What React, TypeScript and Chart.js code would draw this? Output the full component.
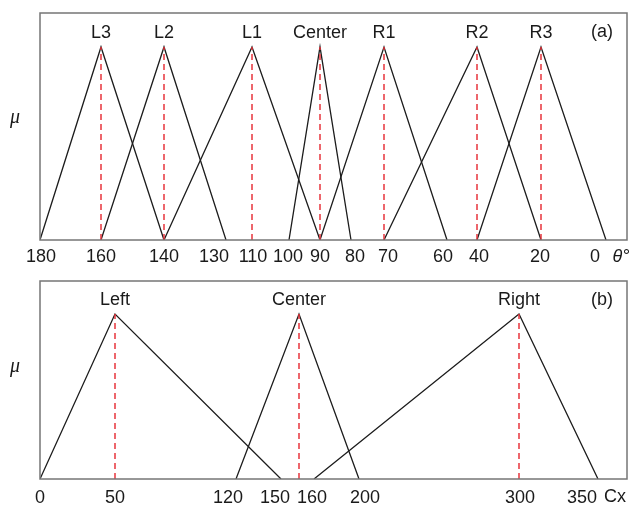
import React, { useEffect, useRef } from "react";
import { Chart, LinearScale, registerables } from "chart.js";

Chart.register(...registerables);

// ---------- Data: panel (a), steering angle θ ----------
const THETA_TICKS = [180, 160, 140, 130, 110, 100, 90, 80, 70, 60, 40, 20, 0];
const THETA_NAMES = ["L3", "L2", "L1", "Center", "R1", "R2", "R3"];
const THETA_LEFT = [180, 160, 140, 100, 90, 70, 40];
const THETA_PEAK = [160, 140, 110, 90, 70, 40, 20];
const THETA_RIGHT = [140, 130, 90, 80, 60, 20, 0];

// ---------- Data: panel (b), centroid Cx ----------
const CX_TICKS = [0, 50, 120, 150, 160, 200, 300, 350];
const CX_NAMES = ["Left", "Center", "Right"];
const CX_LEFT = [0, 120, 170];
const CX_PEAK = [50, 160, 300];
const CX_RIGHT = [150, 200, 350];

// ---------- Axis layout (non-uniform axis breakpoints in px from plot left; plot width 587) ----------
const PLOT_W = 587;
const THETA_AXIS_VALUES = [180, 160, 140, 130, 110, 100, 90, 80, 70, 60, 40, 20, 0, -6.5];
const THETA_AXIS_OFFSETS = [0, 61, 124, 186, 212, 249, 280, 311, 344, 407, 437, 501, 566, 587];
const THETA_LABEL_NUDGE = [1, 0, 0, -12, 1, -1, 0, 4, 4, -4, 2, -1, -11];
const CX_AXIS_VALUES = [0, 50, 120, 150, 160, 200, 300, 350, 368];
const CX_AXIS_OFFSETS = [0, 75, 196, 241, 259, 319, 479, 558, 587];
const CX_LABEL_NUDGE = [0, 0, -8, -6, 13, 6, 1, -16];

function interp(xs: number[], ys: number[], v: number): number {
  const n = xs.length;
  const inc = xs[n - 1] > xs[0];
  for (let i = 0; i < n - 1; i++) {
    const a = xs[i], b = xs[i + 1];
    const inside = inc ? v >= a && v <= b : v <= a && v >= b;
    if (inside) return ys[i] + ((v - a) / (b - a)) * (ys[i + 1] - ys[i]);
  }
  const i = (inc ? v < xs[0] : v > xs[0]) ? 0 : n - 2;
  const a = xs[i], b = xs[i + 1];
  return ys[i] + ((v - a) / (b - a)) * (ys[i + 1] - ys[i]);
}

function makeScale(id: string, values: number[], offsets: number[], tickVals: number[], nudges: number[]) {
  const fracs = offsets.map((o) => o / PLOT_W);
  class PiecewiseScale extends (LinearScale as any) {
    static id = id;
    static defaults = (LinearScale as any).defaults;
    getPixelForValue(value: number) {
      const self = this as any;
      return self.left + interp(values, fracs, value) * self.width;
    }
    getValueForPixel(pixel: number) {
      const self = this as any;
      const f = (pixel - self.left) / self.width;
      return interp(fracs, values, f);
    }
    getPixelForTick(index: number) {
      const self = this as any;
      const t = self.ticks[index];
      if (!t) return 0;
      const k = tickVals.indexOf(t.value);
      return self.getPixelForValue(t.value) + (k >= 0 ? nudges[k] : 0);
    }
  }
  Chart.register(PiecewiseScale as any);
}
makeScale("pwTheta", THETA_AXIS_VALUES, THETA_AXIS_OFFSETS, THETA_TICKS, THETA_LABEL_NUDGE);
makeScale("pwCx", CX_AXIS_VALUES, CX_AXIS_OFFSETS, CX_TICKS, CX_LABEL_NUDGE);

const FONT = '"Liberation Sans", Arial, sans-serif';
const TEXT = "#1a1a1a";

function buildDatasets(left: number[], peak: number[], right: number[]) {
  const ds: any[] = [];
  peak.forEach((p, i) => {
    ds.push({
      data: [
        { x: left[i], y: 0 },
        { x: p, y: 1 },
        { x: right[i], y: 0 },
      ],
      borderColor: "#1c1c1c",
      borderWidth: 1.3,
      pointRadius: 0,
      fill: false,
      tension: 0,
      order: 1,
    });
  });
  peak.forEach((p) => {
    ds.push({
      data: [
        { x: p, y: 0 },
        { x: p, y: 1 },
      ],
      borderColor: "#e8343c",
      borderWidth: 1.5,
      borderDash: [6, 4],
      pointRadius: 0,
      fill: false,
      order: 0,
    });
  });
  return ds;
}

function makeDecor(opts: {
  names: string[];
  peaks: number[];
  tag: string;
  tagDy: number;
  muY: number;
  axisTitle: string;
  axisTitleDx: number;
  axisTitleDy: number;
}) {
  return {
    id: "decor",
    afterDraw(chart: any) {
      const { ctx, chartArea } = chart;
      const xs = chart.scales.x;
      const ys = chart.scales.y;
      ctx.save();
      ctx.strokeStyle = "#767676";
      ctx.lineWidth = 1.5;
      ctx.strokeRect(chartArea.left, chartArea.top, chartArea.right - chartArea.left, chartArea.bottom - chartArea.top);
      ctx.fillStyle = TEXT;
      ctx.font = `18px ${FONT}`;
      ctx.textAlign = "center";
      ctx.textBaseline = "middle";
      opts.names.forEach((n, i) => {
        ctx.fillText(n, xs.getPixelForValue(opts.peaks[i]), ys.getPixelForValue(1) - 14);
      });
      ctx.fillText(opts.tag, chartArea.right - 25, chartArea.top + opts.tagDy);
      ctx.font = `italic 20px "Liberation Serif", serif`;
      ctx.fillText("\u03bc", 15, opts.muY);
      ctx.font = opts.axisTitle === "Cx" ? `18px ${FONT}` : `italic 18px ${FONT}`;
      ctx.fillText(opts.axisTitle, chartArea.right + opts.axisTitleDx, chartArea.bottom + opts.axisTitleDy);
      ctx.restore();
    },
  };
}

function panelConfig(
  scaleType: string,
  ticks: number[],
  min: number,
  max: number,
  yMax: number,
  datasets: any[],
  padTop: number,
  axisH: number,
  tickPad: number,
  decor: any
): any {
  return {
    type: "line",
    data: { datasets },
    options: {
      animation: false,
      responsive: false,
      events: [],
      layout: { padding: { left: 40, right: 3, top: padTop, bottom: 0 } },
      plugins: { legend: { display: false }, tooltip: { enabled: false } },
      scales: {
        x: {
          type: scaleType,
          min,
          max,
          afterBuildTicks: (s: any) => {
            s.ticks = ticks.map((v) => ({ value: v }));
          },
          afterFit: (s: any) => {
            s.height = axisH;
          },
          grid: { display: false, drawTicks: false },
          border: { display: false },
          ticks: {
            autoSkip: false,
            maxRotation: 0,
            minRotation: 0,
            padding: tickPad,
            color: TEXT,
            font: { family: FONT, size: 18 },
            callback: (v: any) => String(v),
          },
        },
        y: { display: false, min: 0, max: yMax },
      },
    },
    plugins: [decor],
  };
}

export default function App() {
  const refA = useRef<HTMLCanvasElement>(null);
  const refB = useRef<HTMLCanvasElement>(null);

  useEffect(() => {
    const chartA = new Chart(
      refA.current!,
      panelConfig(
        "pwTheta",
        THETA_TICKS,
        -6.5,
        180,
        1.176,
        buildDatasets(THETA_LEFT, THETA_PEAK, THETA_RIGHT),
        13,
        30,
        6,
        makeDecor({
          names: THETA_NAMES,
          peaks: THETA_PEAK,
          tag: "(a)",
          tagDy: 19,
          muY: 118,
          axisTitle: "\u03b8\u00b0",
          axisTitleDx: -6,
          axisTitleDy: 17,
        })
      )
    );
    const chartB = new Chart(
      refB.current!,
      panelConfig(
        "pwCx",
        CX_TICKS,
        0,
        368,
        1.2,
        buildDatasets(CX_LEFT, CX_PEAK, CX_RIGHT),
        11,
        28,
        8,
        makeDecor({
          names: CX_NAMES,
          peaks: CX_PEAK,
          tag: "(b)",
          tagDy: 19,
          muY: 97,
          axisTitle: "Cx",
          axisTitleDx: -12,
          axisTitleDy: 18,
        })
      )
    );
    return () => {
      chartA.destroy();
      chartB.destroy();
    };
  }, []);

  return (
    <div style={{ position: "absolute", left: 0, top: 0, width: 630, height: 507, background: "#fff" }}>
      <canvas ref={refA} width={630} height={270} style={{ position: "absolute", left: 0, top: 0, width: 630, height: 270 }} />
      <canvas ref={refB} width={630} height={237} style={{ position: "absolute", left: 0, top: 270, width: 630, height: 237 }} />
    </div>
  );
}
